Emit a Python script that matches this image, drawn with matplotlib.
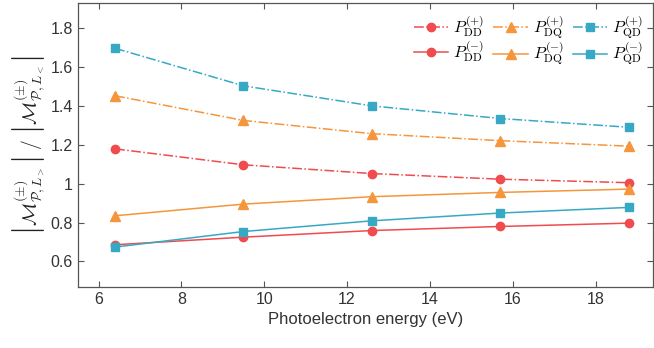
import numpy as np
import matplotlib
matplotlib.use('Agg')
import matplotlib.pyplot as plt

# photoelectron energies (eV)
energy = [6.4, 9.5, 12.6, 15.7, 18.8]

# ratio values
ddPlus = [1.179, 1.097, 1.052, 1.023, 1.005]
ddMinus = [0.686, 0.725, 0.759, 0.780, 0.797]
dqPlus = [1.452, 1.325, 1.257, 1.221, 1.193]
dqMinus = [0.835, 0.895, 0.933, 0.955, 0.972]
qdPlus = [1.696, 1.503, 1.400, 1.335, 1.290]
qdMinus = [0.674, 0.754, 0.809, 0.849, 0.878]

xTicks = [6, 8, 10, 12, 14, 16, 18]
yTicks = [0.6, 0.8, 1.0, 1.2, 1.4, 1.6, 1.8]
yTickLabels = ['0.6', '0.8', '1', '1.2', '1.4', '1.6', '1.8']

red = '#f04b4f'
orange = '#f5963d'
teal = '#38a9c4'

plt.rcParams['font.family'] = ['Liberation Sans', 'DejaVu Sans']
plt.rcParams['mathtext.fontset'] = 'cm'

fig = plt.figure(figsize=(6.54, 3.48), dpi=100)
ax = fig.add_axes([0.119, 0.176, 0.879, 0.816])

ax.plot(energy, ddPlus, '-.', color=red, marker='o', ms=6, lw=1.1, label=r'$P^{(+)}_{\mathrm{DD}}$')
ax.plot(energy, ddMinus, '-', color=red, marker='o', ms=6, lw=1.1, label=r'$P^{(-)}_{\mathrm{DD}}$')
ax.plot(energy, dqPlus, '-.', color=orange, marker='^', ms=6.5, lw=1.1, label=r'$P^{(+)}_{\mathrm{DQ}}$')
ax.plot(energy, dqMinus, '-', color=orange, marker='^', ms=6.5, lw=1.1, label=r'$P^{(-)}_{\mathrm{DQ}}$')
ax.plot(energy, qdPlus, '-.', color=teal, marker='s', ms=5.5, lw=1.1, label=r'$P^{(+)}_{\mathrm{QD}}$')
ax.plot(energy, qdMinus, '-', color=teal, marker='s', ms=5.5, lw=1.1, label=r'$P^{(-)}_{\mathrm{QD}}$')

ax.set_xlim(5.5, 19.38)
ax.set_ylim(0.47, 1.93)
ax.set_xticks(xTicks)
ax.set_yticks(yTicks)
ax.set_yticklabels(yTickLabels)

for s in ax.spines.values():
    s.set_color('#555555')
    s.set_linewidth(0.9)
ax.tick_params(direction='in', top=True, right=True, length=4, width=0.8,
               colors='#555555', labelcolor='#333333', labelsize=11.5)

ax.set_xlabel('Photoelectron energy (eV)', fontsize=12, color='#333333')
ax.set_ylabel(r'$\left|\mathcal{M}^{(\pm)}_{\mathcal{P},L_>}\right|\ /\ \left|\mathcal{M}^{(\pm)}_{\mathcal{P},L_<}\right|$',
              fontsize=14, color='#222222', labelpad=2)

ax.legend(ncol=3, loc='upper right', frameon=False, fontsize=11.8,
          handlelength=2.1, columnspacing=0.55, handletextpad=0.3,
          labelspacing=-0.05, borderaxespad=0.0, bbox_to_anchor=(0.995, 0.982))

fig.savefig('out.png', dpi=100)
